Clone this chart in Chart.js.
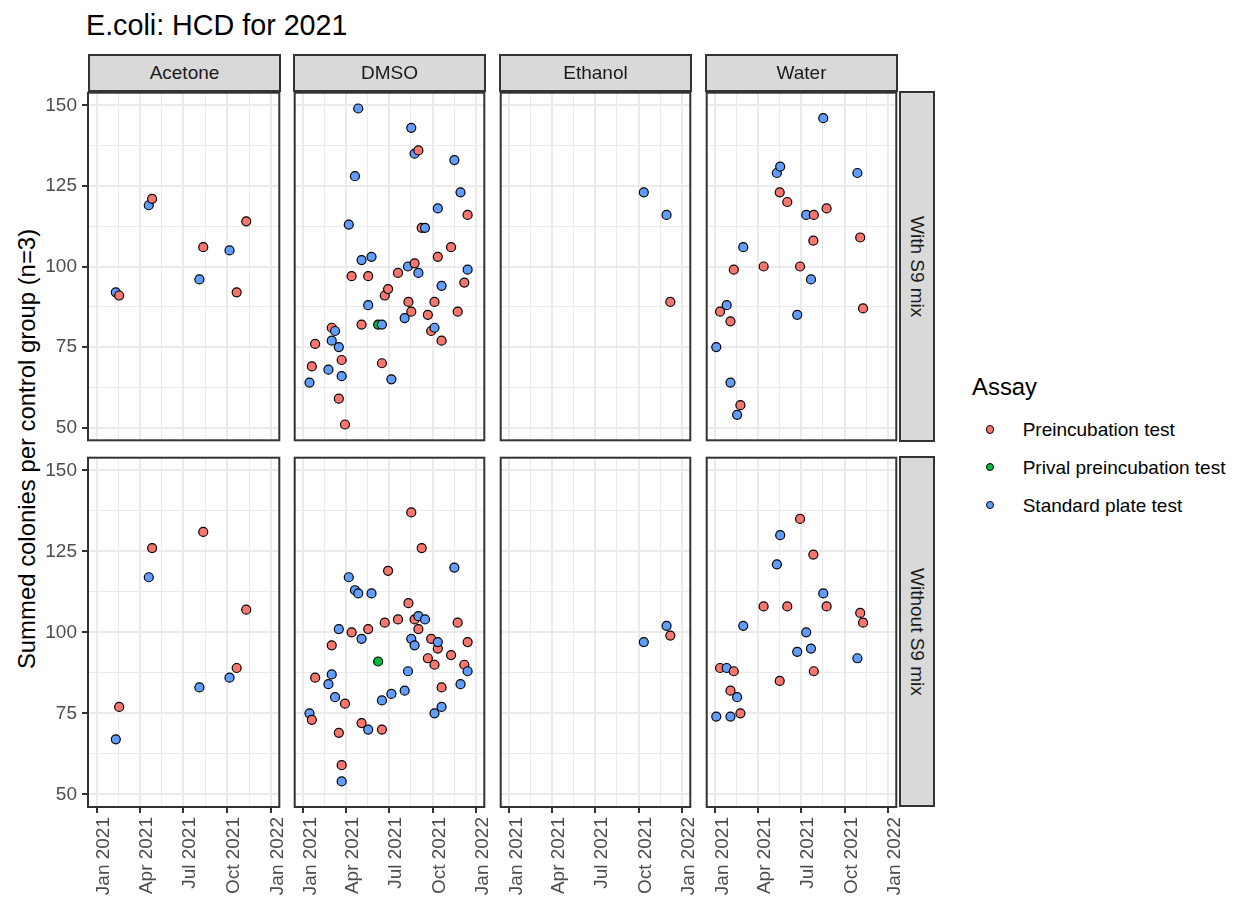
<!DOCTYPE html>
<html>
<head>
<meta charset="utf-8">
<title>E.coli: HCD for 2021</title>
<script src="https://cdn.jsdelivr.net/npm/chart.js@4.4.1/dist/chart.umd.min.js"></script>
<style>
  html, body { margin: 0; padding: 0; background: #ffffff; }
  body { position: relative; width: 1236px; height: 897px; overflow: hidden;
         font-family: "Liberation Sans", Arial, Helvetica, sans-serif; }
  .abs { position: absolute; white-space: nowrap; }
  #title { left: 86px; top: 10.7px; font-size: 28.7px; line-height: 28.7px; color: #000; }
  #ytitle { left: -273px; top: 437px; width: 600px; height: 24px; line-height: 24px;
            font-size: 23.9px; text-align: center; color: #000;
            transform: rotate(-90deg); transform-origin: 50% 50%; }
  .strip { position: absolute; box-sizing: border-box; background: #D9D9D9;
           border: 2px solid #333333; color: #1A1A1A; font-size: 19px;
           display: flex; align-items: center; justify-content: center; white-space: nowrap; }
  .strip.right span { writing-mode: vertical-rl; }
  .legend-title { font-size: 23.9px; line-height: 23.9px; color: #000; }
  .legend-dot { position: absolute; box-sizing: border-box; width: 8.5px; height: 8.5px;
                border: 1px solid #000; border-radius: 50%; }
  .legend-label { font-size: 19px; line-height: 19px; color: #000; }
  canvas { position: absolute; }
</style>
</head>
<body>
<div id="title" class="abs">E.coli: HCD for 2021</div>
<div id="ytitle" class="abs">Summed colonies per control group (n=3)</div>

<script>
// ---- Axis definitions ----
const xLimits = ['2021-01-01', '2021-12-31'];
const xTickDates = ['2021-01-01', '2021-04-01', '2021-07-01', '2021-10-01', '2022-01-01'];
const xTickLabels = ['Jan 2021', 'Apr 2021', 'Jul 2021', 'Oct 2021', 'Jan 2022'];
const yTicks = [50, 75, 100, 125, 150];

// ---- Facets and assays ----
const solvents = ['Acetone', 'DMSO', 'Ethanol', 'Water'];
const s9Groups = ['With S9 mix', 'Without S9 mix'];
const assayKeys = ['pre', 'prival', 'std'];
const assayNames = ['Preincubation test', 'Prival preincubation test', 'Standard plate test'];
const assayColors = ['#F8766D', '#00BA38', '#619CFF'];

// ---- Acetone ----
const acetoneDates = ['2021-02-10', '2021-02-17', '2021-04-20', '2021-04-27', '2021-08-04',
                      '2021-08-12', '2021-10-06', '2021-10-21', '2021-11-10'];
const acetoneAssay = ['std', 'pre', 'std', 'pre', 'std', 'pre', 'std', 'pre', 'pre'];
const acetoneWithS9 = [92, 91, 119, 121, 96, 106, 105, 92, 114];
const acetoneWithoutS9 = [67, 77, 117, 126, 83, 131, 86, 89, 107];

// ---- DMSO ----
const dmsoDates = ['2021-01-14', '2021-01-19', '2021-01-26', '2021-02-23', '2021-03-02', '2021-03-02',
                   '2021-03-09', '2021-03-17', '2021-03-17', '2021-03-23', '2021-03-23', '2021-03-30',
                   '2021-04-07', '2021-04-13', '2021-04-20', '2021-04-27', '2021-05-04', '2021-05-04',
                   '2021-05-18', '2021-05-18', '2021-05-25', '2021-06-08', '2021-06-16', '2021-06-16',
                   '2021-06-22', '2021-06-29', '2021-07-06', '2021-07-20', '2021-08-03', '2021-08-10',
                   '2021-08-11', '2021-08-17', '2021-08-17', '2021-08-24', '2021-08-24', '2021-09-01',
                   '2021-09-01', '2021-09-08', '2021-09-15', '2021-09-21', '2021-09-28', '2021-10-05',
                   '2021-10-05', '2021-10-12', '2021-10-12', '2021-10-20', '2021-10-20', '2021-11-09',
                   '2021-11-16', '2021-11-23', '2021-11-29', '2021-12-07', '2021-12-14', '2021-12-14'];
const dmsoAssay = ['std', 'pre', 'pre', 'std', 'pre', 'std', 'std', 'std', 'pre', 'pre', 'std', 'pre',
                   'std', 'pre', 'std', 'std', 'pre', 'std', 'pre', 'std', 'std', 'prival', 'std', 'pre',
                   'pre', 'pre', 'std', 'pre', 'std', 'std', 'pre', 'std', 'pre', 'std', 'pre', 'pre',
                   'std', 'pre', 'std', 'pre', 'pre', 'pre', 'std', 'pre', 'std', 'pre', 'std', 'pre',
                   'std', 'pre', 'std', 'pre', 'pre', 'std'];
const dmsoWithS9 = [64, 69, 76, 68, 81, 77, 80, 75, 59, 71, 66, 51,
                    113, 97, 128, 149, 82, 102, 97, 88, 103, 82, 82, 70,
                    91, 93, 65, 98, 84, 100, 89, 143, 86, 135, 101, 136,
                    98, 112, 112, 85, 80, 89, 81, 103, 118, 77, 94, 106,
                    133, 86, 123, 95, 116, 99];
const dmsoWithoutS9 = [75, 73, 86, 84, 96, 87, 80, 101, 69, 59, 54, 78,
                       117, 100, 113, 112, 72, 98, 101, 70, 112, 91, 79, 70,
                       103, 119, 81, 104, 82, 88, 109, 98, 137, 96, 104, 101,
                       105, 126, 104, 92, 98, 90, 75, 95, 97, 83, 77, 93,
                       120, 103, 84, 90, 97, 88];

// ---- Ethanol ----
const ethanolDates = ['2021-10-12', '2021-11-29', '2021-12-07'];
const ethanolAssay = ['std', 'std', 'pre'];
const ethanolWithS9 = [123, 116, 89];
const ethanolWithoutS9 = [97, 102, 99];

// ---- Water ----
const waterDates = ['2021-01-03', '2021-01-11', '2021-01-25', '2021-02-02', '2021-02-02', '2021-02-09',
                    '2021-02-16', '2021-02-23', '2021-03-01', '2021-04-13', '2021-05-11', '2021-05-17',
                    '2021-05-18', '2021-06-02', '2021-06-23', '2021-06-29', '2021-07-12', '2021-07-22',
                    '2021-07-27', '2021-07-28', '2021-08-17', '2021-08-24', '2021-10-28', '2021-11-03',
                    '2021-11-09'];
const waterAssay = ['std', 'pre', 'std', 'pre', 'std', 'pre', 'std', 'pre', 'std', 'pre', 'std', 'pre',
                    'std', 'pre', 'std', 'pre', 'std', 'std', 'pre', 'pre', 'std', 'pre', 'std', 'pre', 'pre'];
const waterWithS9 = [75, 86, 88, 83, 64, 99, 54, 57, 106, 100, 129, 123,
                     131, 120, 85, 100, 116, 96, 108, 116, 146, 118, 129, 109, 87];
const waterWithoutS9 = [74, 89, 89, 82, 74, 88, 80, 75, 102, 108, 121, 85,
                        130, 108, 94, 135, 100, 95, 124, 88, 112, 108, 92, 106, 103];

const panelData = {
  Acetone: { dates: acetoneDates, assay: acetoneAssay, values: [acetoneWithS9, acetoneWithoutS9] },
  DMSO:    { dates: dmsoDates,    assay: dmsoAssay,    values: [dmsoWithS9, dmsoWithoutS9] },
  Ethanol: { dates: ethanolDates, assay: ethanolAssay, values: [ethanolWithS9, ethanolWithoutS9] },
  Water:   { dates: waterDates,   assay: waterAssay,   values: [waterWithS9, waterWithoutS9] }
};

// ---- Layout ----
const COL_LEFT = [88, 293, 499, 705];
const ROW_TOP = [91, 456];
const PANEL_W = 193, PANEL_H = 351;
const PAD = 4, Y_AXIS_W = 48, X_AXIS_H = 90;
const FONT = '"Liberation Sans", Arial, Helvetica, sans-serif';

// days since 2021-01-01
function dayOf(s) {
  const [y, m, d] = s.split('-').map(Number);
  return (Date.UTC(y, m - 1, d) - Date.UTC(2021, 0, 1)) / 864e5;
}

// shared scales with 5% expansion (fixed facet scales)
const xLo = dayOf(xLimits[0]), xHi = dayOf(xLimits[1]);
const xMin = xLo - 0.05 * (xHi - xLo), xMax = xHi + 0.05 * (xHi - xLo);
const allValues = Object.values(panelData).flatMap(p => p.values.flat());
const vLo = Math.min(...allValues), vHi = Math.max(...allValues);
const yMin = vLo - 0.05 * (vHi - vLo), yMax = vHi + 0.05 * (vHi - vLo);

const xMajor = xTickDates.map(dayOf);
const xMinor = xMajor.slice(1).map((v, i) => (v + xMajor[i]) / 2);
const yMinor = yTicks.slice(1).map((v, i) => (v + yTicks[i]) / 2);
const xTickList = [...xMajor.map(v => ({ value: v })), ...xMinor.map(v => ({ value: v, sub: true }))]
  .sort((a, b) => a.value - b.value);
const yTickList = [...yTicks.map(v => ({ value: v })), ...yMinor.map(v => ({ value: v, sub: true }))]
  .sort((a, b) => a.value - b.value);

Chart.defaults.font.family = FONT;

const isSub = ctx => !!(ctx.tick && ctx.tick.sub);
const gridStyle = {
  color: '#EBEBEB',
  lineWidth: ctx => isSub(ctx) ? 1 : 2,
  tickColor: ctx => isSub(ctx) ? 'rgba(0,0,0,0)' : '#333333',
  tickWidth: 2,
  tickLength: 6
};

// panel frame drawn over the points
const panelBorder = {
  id: 'panelBorder',
  afterDraw(chart) {
    const { ctx, chartArea: a } = chart;
    ctx.save();
    ctx.strokeStyle = '#333333';
    ctx.lineWidth = 2;
    ctx.strokeRect(a.left, a.top, a.right - a.left, a.bottom - a.top);
    ctx.restore();
  }
};

solvents.forEach((solvent, c) => {
  s9Groups.forEach((group, r) => {
    const src = panelData[solvent];
    const points = src.dates.map((d, i) => ({ x: dayOf(d), y: src.values[r][i] }));
    const fills = src.assay.map(a => assayColors[assayKeys.indexOf(a)]);
    const padL = c === 0 ? Y_AXIS_W : PAD;
    const w = padL + PANEL_W + PAD;
    const h = PAD + PANEL_H + (r === 1 ? X_AXIS_H : PAD);

    const canvas = document.createElement('canvas');
    canvas.width = w; canvas.height = h;
    canvas.style.width = w + 'px'; canvas.style.height = h + 'px';
    canvas.style.left = (COL_LEFT[c] - padL) + 'px';
    canvas.style.top = (ROW_TOP[r] - PAD) + 'px';
    document.body.appendChild(canvas);

    new Chart(canvas, {
      type: 'scatter',
      data: {
        datasets: [{
          data: points,
          pointBackgroundColor: fills,
          pointBorderColor: '#000000',
          pointBorderWidth: 1.2,
          pointRadius: 4.5,
          pointHoverRadius: 4.5
        }]
      },
      options: {
        responsive: false,
        animation: false,
        devicePixelRatio: 1,
        events: [],
        layout: { padding: { left: c === 0 ? 0 : PAD, right: PAD, top: PAD, bottom: r === 1 ? 0 : PAD } },
        plugins: { legend: { display: false }, tooltip: { enabled: false } },
        scales: {
          x: {
            type: 'linear', min: xMin, max: xMax,
            afterBuildTicks: s => { s.ticks = xTickList.map(t => ({ ...t })); },
            afterFit: s => { s.height = r === 1 ? X_AXIS_H : 0; s.paddingLeft = 0; s.paddingRight = 0; },
            grid: { ...gridStyle, drawTicks: r === 1 },
            border: { display: false },
            ticks: {
              display: r === 1, autoSkip: false, maxRotation: 90, minRotation: 90,
              padding: 4, labelOffset: 7, color: '#4D4D4D', font: { size: 19 },
              callback: (v, i, t) => t[i].sub ? '' : xTickLabels[xMajor.indexOf(v)]
            }
          },
          y: {
            type: 'linear', min: yMin, max: yMax,
            afterBuildTicks: s => { s.ticks = yTickList.map(t => ({ ...t })); },
            afterFit: s => { s.width = c === 0 ? Y_AXIS_W : 0; s.paddingTop = 0; s.paddingBottom = 0; },
            grid: { ...gridStyle, drawTicks: c === 0 },
            border: { display: false },
            ticks: {
              display: c === 0, padding: 5, color: '#4D4D4D', font: { size: 19 },
              callback: (v, i, t) => t[i].sub ? '' : String(v)
            }
          }
        }
      },
      plugins: [panelBorder]
    });
  });
});

// ---- Facet strips ----
solvents.forEach((solvent, c) => {
  const s = document.createElement('div');
  s.className = 'strip';
  s.style.left = COL_LEFT[c] + 'px'; s.style.top = '54px';
  s.style.width = PANEL_W + 'px'; s.style.height = '38px';
  s.textContent = solvent;
  document.body.appendChild(s);
});
s9Groups.forEach((group, r) => {
  const s = document.createElement('div');
  s.className = 'strip right';
  s.style.left = (COL_LEFT[3] + PANEL_W + 1) + 'px'; s.style.top = ROW_TOP[r] + 'px';
  s.style.width = '36px'; s.style.height = PANEL_H + 'px';
  const span = document.createElement('span');
  span.textContent = group;
  s.appendChild(span);
  document.body.appendChild(s);
});

// ---- Legend ----
const lt = document.createElement('div');
lt.className = 'abs legend-title';
lt.style.left = '972px'; lt.style.top = (395 - 0.8465 * 23.9) + 'px';
lt.textContent = 'Assay';
document.body.appendChild(lt);
assayNames.forEach((name, i) => {
  const yc = 429.3 + i * 37.85;
  const dot = document.createElement('div');
  dot.className = 'legend-dot';
  dot.style.left = (990 - 4.25) + 'px'; dot.style.top = (yc - 4.25) + 'px';
  dot.style.background = assayColors[i];
  document.body.appendChild(dot);
  const lab = document.createElement('div');
  lab.className = 'abs legend-label';
  lab.style.left = '1022.7px'; lab.style.top = (yc + 0.358 * 19 - 0.8465 * 19) + 'px';
  lab.textContent = name;
  document.body.appendChild(lab);
});
</script>
</body>
</html>
